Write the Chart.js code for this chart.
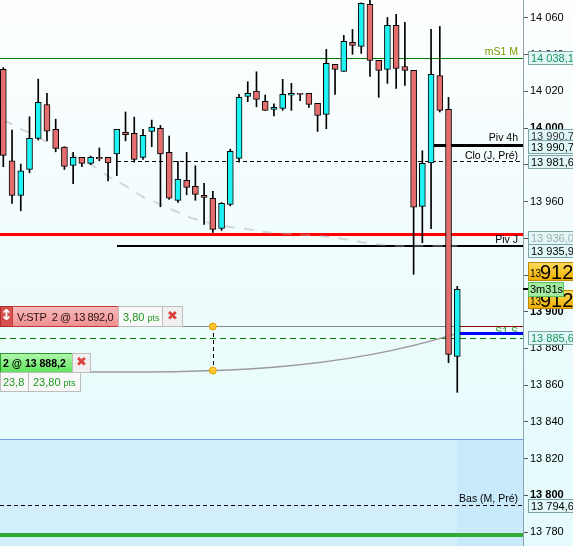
<!DOCTYPE html>
<html lang="fr">
<head>
    <meta charset="UTF-8">
    <title>Bougies 5 min</title>
    <script src="https://cdn.jsdelivr.net/npm/chart.js"></script>
    <style>
        body { margin: 0; padding: 0; background: #f2fcfc; overflow: hidden; }
        canvas { display: block; }
    </style>
</head>
<body>
    <canvas id="priceChart" width="573" height="546"></canvas>
<script>
    // OHLC, de gauche a droite (la derniere bougie est en cours)
    const opens  = [14032.0, 13982.2, 13963.4, 13977.5, 13994.4, 14012.9, 13999.3, 13989.7, 13979.7, 13984.1, 13980.8, 13984.1, 13984.1, 13986.0, 13997.7, 13997.2, 13984.1, 13998.2, 13999.9, 13986.8, 13960.7, 13971.6, 13968.3, 13963.4, 13961.8, 13945.4, 13958.5, 13983.5, 14017.3, 14020.2, 14014.6, 14010.2, 14010.8, 14017.9, 14018.9, 14018.9, 14013.5, 14007.5, 14034.7, 14030.9, 14046.7, 14044.5, 14067.4, 14036.9, 14032.0, 14056.0, 14033.6, 14031.5, 13957.4, 13981.0, 14028.7, 14010.2, 13875.7];
    const highs  = [14033.0, 13999.0, 13980.4, 14006.2, 14026.7, 14018.9, 14004.9, 13989.9, 13986.8, 13984.1, 13984.8, 13989.2, 13984.1, 13999.3, 14008.8, 14006.0, 13999.3, 14004.4, 14001.5, 13995.7, 13981.9, 13986.8, 13979.5, 13969.9, 13965.6, 13959.5, 13988.6, 14018.4, 14025.3, 14030.7, 14018.0, 14013.3, 14026.6, 14024.4, 14018.9, 14018.9, 14013.5, 14042.9, 14034.7, 14050.5, 14053.8, 14068.2, 14071.0, 14036.9, 14060.3, 14062.0, 14057.6, 14031.5, 13987.7, 14053.8, 14055.4, 14016.8, 13913.8];
    const lows   = [13979.0, 13959.0, 13955.0, 13975.7, 13993.5, 13993.1, 13987.1, 13977.5, 13969.7, 13979.0, 13980.1, 13982.2, 13971.3, 13974.1, 13993.1, 13981.5, 13983.0, 13989.9, 13957.2, 13961.2, 13959.6, 13963.7, 13960.7, 13947.6, 13943.2, 13944.3, 13957.7, 13981.4, 14014.4, 14011.6, 14009.7, 14006.7, 14009.7, 14009.7, 14014.9, 14011.3, 13998.2, 13999.7, 14018.4, 14030.9, 14040.2, 14040.7, 14028.2, 14016.8, 14024.4, 14021.7, 14023.3, 13920.4, 13937.6, 13945.2, 14008.8, 13872.2, 13856.1];
    const closes = [13985.2, 13963.4, 13976.8, 13994.4, 14014.0, 13998.4, 13989.0, 13979.2, 13984.1, 13980.8, 13984.1, 13983.3, 13981.1, 13999.3, 13996.4, 13983.0, 13996.1, 14000.6, 13986.0, 13961.8, 13972.1, 13967.7, 13963.9, 13962.3, 13944.9, 13959.0, 13987.4, 14016.8, 14018.9, 14015.7, 14009.7, 14011.3, 14018.4, 14018.9, 14018.4, 14012.9, 14007.0, 14035.3, 14032.0, 14047.3, 14045.1, 14068.0, 14036.9, 14031.5, 14056.0, 14032.6, 14031.5, 13956.9, 13980.8, 14029.3, 14009.7, 13876.8, 13912.2];

    // moyenne mobile (pointilles gris clair)
    const sma = [14004.4, 14002.2, 13999.5, 13997.6, 13995.1, 13992.4, 13989.7, 13987.5, 13985.3, 13982.9, 13980.2, 13977.2, 13973.9, 13971.2, 13968.5, 13965.5, 13962.5, 13960.6, 13958.4, 13956.2, 13954.3, 13952.1, 13950.5, 13949.1, 13948.0, 13947.2, 13946.1, 13945.6, 13945.0, 13944.2, 13943.4, 13942.9, 13942.6, 13942.3, 13942.0, 13941.8, 13941.5, 13940.9, 13940.4, 13939.6, 13938.8, 13937.9, 13937.1, 13936.6, 13936.3, 13936.0, 13936.0, 13936.0, 13936.0, 13936.0, 13936.0, 13936.0, 13936.0];

    const priceTicks = [13780, 13800, 13820, 13840, 13860, 13880, 13900, 13920, 13940, 13960, 13980, 14000, 14020, 14040, 14060];

    // niveaux horizontaux
    const levelNames  = ['mS1 M', 'Piv 4h', 'Clo (J, Pré)', 'Piv J', 'S1 S', 'Bas (M, Pré)'];
    const levelValues = [14038.1, 13990.7, 13981.6, 13935.9, 13885.6, 13794.6];
    const levelFrom   = [0, 49, 13, 13, 0, 0]; // bougie de depart

    const redLine = 13942.3;
    const stopPrice = 13892.0;
    const entryPrice = 13888.2;
    const quantity = 2;
    const stopPts = '3,80';
    const gainShort = '23,8';
    const gainPts = '23,80';
    const zoneTop = 13830.5;
    const floorLine = 13778.4;
    const timer = '3m31s';
    const markCandle = 24;

    const last = closes.length - 1;

    function fmt(v, dec) {
        const parts = v.toFixed(dec).split('.');
        const ent = parts[0].replace(/\B(?=(\d{3})+(?!\d))/g, ' ');
        return parts.length > 1 ? ent + ',' + parts[1] : ent;
    }

    // trait horizontal en rectangle plein
    function hline(ctx, x0, x1, yy, color, w, dash) {
        const top = Math.round(yy - w / 2);
        ctx.fillStyle = color;
        if (!dash) {
            ctx.fillRect(x0, top, x1 - x0, w);
            return;
        }
        for (let xx = x0; xx < x1; xx += dash[0] + dash[1]) {
            ctx.fillRect(xx, top, Math.min(dash[0], x1 - xx), w);
        }
    }

    function axisBox(ctx, yc, text, color, fill) {
        const top = Math.round(yc - 7) + 0.5;
        ctx.fillStyle = fill || '#e1f7f7';
        ctx.fillRect(528.5, top, 46, 13);
        ctx.strokeStyle = '#7ea5a5';
        ctx.lineWidth = 1;
        ctx.strokeRect(528.5, top, 46, 13);
        ctx.fillStyle = color;
        ctx.font = '11px Arial';
        ctx.textAlign = 'left';
        ctx.textBaseline = 'alphabetic';
        ctx.fillText(text, 531, top + 10.5);
    }

    function goldBox(ctx, top, small, big) {
        const g = ctx.createLinearGradient(0, top, 0, top + 18);
        g.addColorStop(0, '#ffdc5e');
        g.addColorStop(1, '#f0b000');
        ctx.fillStyle = g;
        ctx.fillRect(528.5, top + 0.5, 46, 18);
        ctx.strokeStyle = '#c08600';
        ctx.lineWidth = 1;
        ctx.strokeRect(528.5, top + 0.5, 46, 18);
        ctx.fillStyle = '#000';
        ctx.textAlign = 'left';
        ctx.textBaseline = 'alphabetic';
        ctx.font = '10px Arial';
        ctx.fillText(small, 530, top + 15);
        ctx.font = '20px Arial';
        ctx.fillText(big, 540, top + 16.5);
    }

    function box(ctx, x, y, w, h, fill, stroke) {
        ctx.fillStyle = fill;
        ctx.fillRect(x, y, w, h);
        ctx.strokeStyle = stroke;
        ctx.lineWidth = 1;
        ctx.strokeRect(x + 0.5, y + 0.5, w - 1, h - 1);
    }

    function cross(ctx, cx, cy) {
        ctx.fillStyle = '#d9413f';
        ctx.font = 'bold 13px "DejaVu Sans"';
        ctx.textAlign = 'center';
        ctx.textBaseline = 'middle';
        ctx.fillText('✖', cx, cy);
        ctx.textAlign = 'left';
        ctx.textBaseline = 'alphabetic';
    }

    function pts(ctx, x, yb, num) {
        ctx.fillStyle = '#1f9a1f';
        ctx.font = '11px Arial';
        ctx.textBaseline = 'alphabetic';
        ctx.fillText(num, x, yb);
        const w = ctx.measureText(num).width;
        ctx.font = '9px Arial';
        ctx.fillText('pts', x + w + 3, yb);
    }

    const levelStyle = [
        { color: '#008000', w: 1, text: '#7a9a00' },
        { color: '#000', w: 3, text: '#000' },
        { color: '#000', w: 1, dash: [4, 3], text: '#000' },
        { color: '#000', w: 2, text: '#000' },
        { color: '#008000', w: 1, dash: [6, 4], text: '#2a9a2a' },
        { color: '#000', w: 1, dash: [4, 3], text: '#000' }
    ];

    const decor = {
        id: 'decor',
        beforeDraw(chart) {
            const ctx = chart.ctx;
            const g = ctx.createLinearGradient(0, 0, 0, chart.height);
            g.addColorStop(0, '#fdfefe');
            g.addColorStop(0.8, '#e7fbfc');
            g.addColorStop(1, '#e5fafc');
            ctx.save();
            ctx.fillStyle = g;
            ctx.fillRect(0, 0, chart.width, chart.height);
            ctx.restore();
        },
        beforeDatasetsDraw(chart) {
            const { ctx, chartArea: a, scales: { x, y } } = chart;
            const lastX = Math.round(x.getPixelForValue(last));
            ctx.save();

            // zone bleue en bas
            const zt = Math.round(y.getPixelForValue(zoneTop));
            ctx.fillStyle = '#d3effc';
            ctx.fillRect(a.left, zt, a.right - a.left, a.bottom - zt);
            ctx.fillStyle = '#c9eafb';
            ctx.fillRect(lastX, zt, a.right - lastX, a.bottom - zt);
            hline(ctx, a.left, a.right, zt, '#6f9ee6', 1);

            hline(ctx, a.left, a.right, y.getPixelForValue(redLine), '#ff0000', 3);
            hline(ctx, a.left, a.right, y.getPixelForValue(floorLine), '#33aa33', 4);

            levelValues.forEach((v, i) => {
                const st = levelStyle[i];
                const yy = y.getPixelForValue(v);
                const x0 = levelFrom[i] === 0 ? a.left : Math.round(x.getPixelForValue(levelFrom[i]));
                hline(ctx, x0, a.right, yy, st.color, st.w, st.dash);
                ctx.fillStyle = st.text;
                ctx.font = '10.5px Arial';
                ctx.textAlign = 'right';
                ctx.textBaseline = 'alphabetic';
                ctx.fillText(levelNames[i], a.right - 5, Math.round(yy) - Math.ceil(st.w / 2) - 2);
            });

            // ordre stop + position
            const sy = y.getPixelForValue(stopPrice);
            const ey = y.getPixelForValue(entryPrice);
            hline(ctx, 182, lastX, sy, '#8a8a8a', 1);
            hline(ctx, lastX, a.right, sy, '#a00000', 1);
            hline(ctx, lastX, a.right, ey, '#0000ff', 3);

            const y0 = Math.round(sy) + 46;
            const d = lastX - 90;
            ctx.beginPath();
            ctx.strokeStyle = '#9a9a9a';
            ctx.lineWidth = 1.5;
            ctx.moveTo(90, y0);
            ctx.bezierCurveTo(90 + d / 3, y0, 90 + 2 * d / 3, y0, lastX, ey);
            ctx.stroke();
            ctx.beginPath();
            ctx.restore();
        },
        afterDraw(chart) {
            const { ctx, chartArea: a, scales: { x, y } } = chart;
            const lastX = Math.round(x.getPixelForValue(last));
            ctx.save();

            // cases de prix sur l'axe
            const greenTxt = '#17935a';
            axisBox(ctx, y.getPixelForValue(levelValues[0]), fmt(levelValues[0], 1), greenTxt);
            axisBox(ctx, y.getPixelForValue(levelValues[1]) - 9, fmt(levelValues[1], 1), '#333');
            axisBox(ctx, y.getPixelForValue(levelValues[1]) + 1.5, fmt(levelValues[1], 1), '#000');
            axisBox(ctx, y.getPixelForValue(levelValues[2]), fmt(levelValues[2], 1), '#000');
            axisBox(ctx, y.getPixelForValue(sma[last]) - 8, fmt(sma[last], 1), '#9db0b0', '#e4f6f6');
            axisBox(ctx, y.getPixelForValue(levelValues[3]) + 5, fmt(levelValues[3], 1), '#000');
            axisBox(ctx, y.getPixelForValue(levelValues[4]), fmt(levelValues[4], 1), greenTxt);
            axisBox(ctx, y.getPixelForValue(levelValues[5]) + 1, fmt(levelValues[5], 1), '#000');

            // dernier cours
            const py = Math.round(y.getPixelForValue(closes[last]));
            const parts = fmt(closes[last], 0).split(' ');
            hline(ctx, a.right, a.right + 5, py, '#000', 2);
            goldBox(ctx, py - 27, parts[0], parts[1]);
            goldBox(ctx, py + 1, parts[0], parts[1]);
            box(ctx, 528, py - 7, 36, 15, '#a2eba0', '#5cbd5c');
            ctx.fillStyle = '#000';
            ctx.font = '11px Arial';
            ctx.textAlign = 'left';
            ctx.textBaseline = 'alphabetic';
            ctx.fillText(timer, 530, py + 4);

            // etiquette stop
            const sy = Math.round(y.getPixelForValue(stopPrice));
            const t1 = sy - 20;
            box(ctx, 0, t1, 13, 21, '#d65050', '#b03030');
            ctx.fillStyle = '#fff';
            ctx.font = 'bold 15px "DejaVu Sans"';
            ctx.textAlign = 'center';
            ctx.textBaseline = 'middle';
            ctx.fillText('↕', 6.5, t1 + 10.5);
            const rg = ctx.createLinearGradient(0, t1, 0, t1 + 21);
            rg.addColorStop(0, '#f9bcbc');
            rg.addColorStop(1, '#ef8e8e');
            box(ctx, 12, t1, 107, 21, rg, '#c23b3b');
            ctx.fillStyle = '#2a1010';
            ctx.font = '11px Arial';
            ctx.textAlign = 'left';
            ctx.textBaseline = 'alphabetic';
            ctx.letterSpacing = '-0.4px';
            ctx.fillText('V:STP  ' + quantity + ' @ ' + fmt(stopPrice, 1), 17, t1 + 14.5);
            ctx.letterSpacing = '0px';
            box(ctx, 118, t1, 45, 21, '#f8f8f8', '#bdbdbd');
            pts(ctx, 123, t1 + 14.5, stopPts);
            box(ctx, 162, t1, 21, 21, '#f0f0f0', '#bdbdbd');
            cross(ctx, 172.5, t1 + 10.5);

            // etiquette position
            const t2 = sy + 27;
            const gg = ctx.createLinearGradient(0, t2, 0, t2 + 19);
            gg.addColorStop(0, '#b4f7b0');
            gg.addColorStop(1, '#5fe45c');
            box(ctx, 0, t2, 73, 20, gg, '#2b9b2b');
            ctx.fillStyle = '#000';
            ctx.font = 'bold 10.5px Arial';
            ctx.fillText(quantity + ' @ ' + fmt(entryPrice, 1), 3, t2 + 14);
            box(ctx, 72, t2, 19, 20, '#f0f0f0', '#bdbdbd');
            cross(ctx, 81.5, t2 + 10);
            box(ctx, 0, t2 + 19, 29, 20, '#f8f8f8', '#bdbdbd');
            box(ctx, 28, t2 + 19, 53, 20, '#f8f8f8', '#bdbdbd');
            ctx.fillStyle = '#1f9a1f';
            ctx.font = '11px Arial';
            ctx.fillText(gainShort, 3, t2 + 33);
            pts(ctx, 33, t2 + 33, gainPts);

            // points de reperes
            const ey = y.getPixelForValue(entryPrice);
            const y0 = sy + 46;
            const mx = x.getPixelForValue(markCandle);
            const t = (mx - 90) / (lastX - 90);
            const my = y0 + (ey - y0) * t * t * t;
            ctx.beginPath();
            ctx.setLineDash([4, 3]);
            ctx.strokeStyle = '#000';
            ctx.lineWidth = 1;
            ctx.moveTo(Math.round(mx) + 0.5, sy);
            ctx.lineTo(Math.round(mx) + 0.5, my);
            ctx.stroke();
            ctx.setLineDash([]);
            [sy + 0.5, my].forEach(dy => {
                ctx.beginPath();
                ctx.arc(mx, dy, 3.5, 0, Math.PI * 2);
                ctx.fillStyle = '#ffc832';
                ctx.fill();
                ctx.strokeStyle = '#e39d00';
                ctx.stroke();
            });
            ctx.beginPath();
            ctx.restore();
        }
    };

    const bodies = opens.map((o, i) => ({ x: i, y: [o, closes[i]] }));
    const wicks = lows.map((l, i) => ({ x: i, y: [l, highs[i]] }));
    const avg = sma.map((v, i) => ({ x: i, y: v }));

    new Chart(document.getElementById('priceChart'), {
        type: 'bar',
        data: {
            datasets: [
                {
                    data: bodies,
                    backgroundColor: bodies.map(b => b.y[1] >= b.y[0] ? '#1ff2f2' : '#e46d6d'),
                    borderColor: '#000',
                    borderWidth: 1,
                    borderSkipped: false,
                    barThickness: 6,
                    grouped: false,
                    order: 1
                },
                {
                    data: wicks,
                    backgroundColor: '#000',
                    borderColor: '#000',
                    borderWidth: 0,
                    barThickness: 1,
                    grouped: false,
                    order: 2
                },
                {
                    type: 'line',
                    data: avg,
                    borderColor: 'rgba(170,170,170,0.45)',
                    backgroundColor: 'rgba(0,0,0,0)',
                    borderWidth: 2,
                    borderDash: [10, 9],
                    pointRadius: 0,
                    tension: 0.3,
                    order: 3
                }
            ]
        },
        options: {
            responsive: false,
            animation: false,
            devicePixelRatio: 1,
            events: [],
            layout: { padding: 0 },
            plugins: { legend: { display: false }, tooltip: { enabled: false } },
            scales: {
                x: { type: 'linear', min: -0.38, max: 59.53, display: false, offset: false },
                y: {
                    position: 'right',
                    min: 13772.4,
                    max: 14069.8,
                    afterFit(s) { s.width = 50; s.paddingTop = 0; s.paddingBottom = 0; },
                    afterBuildTicks(s) { s.ticks = priceTicks.map(v => ({ value: v })); },
                    ticks: {
                        autoSkip: false,
                        padding: 2,
                        color: '#000',
                        font: c => ({ family: 'Arial', size: 11, weight: c.tick && c.tick.value % 100 === 0 ? 'bold' : 'normal' }),
                        callback: v => fmt(v, 0)
                    },
                    grid: { drawOnChartArea: false, drawTicks: true, tickLength: 5, color: '#555' },
                    border: { display: true, color: '#8da2ad' }
                }
            }
        },
        plugins: [decor]
    });
</script>
</body>
</html>
